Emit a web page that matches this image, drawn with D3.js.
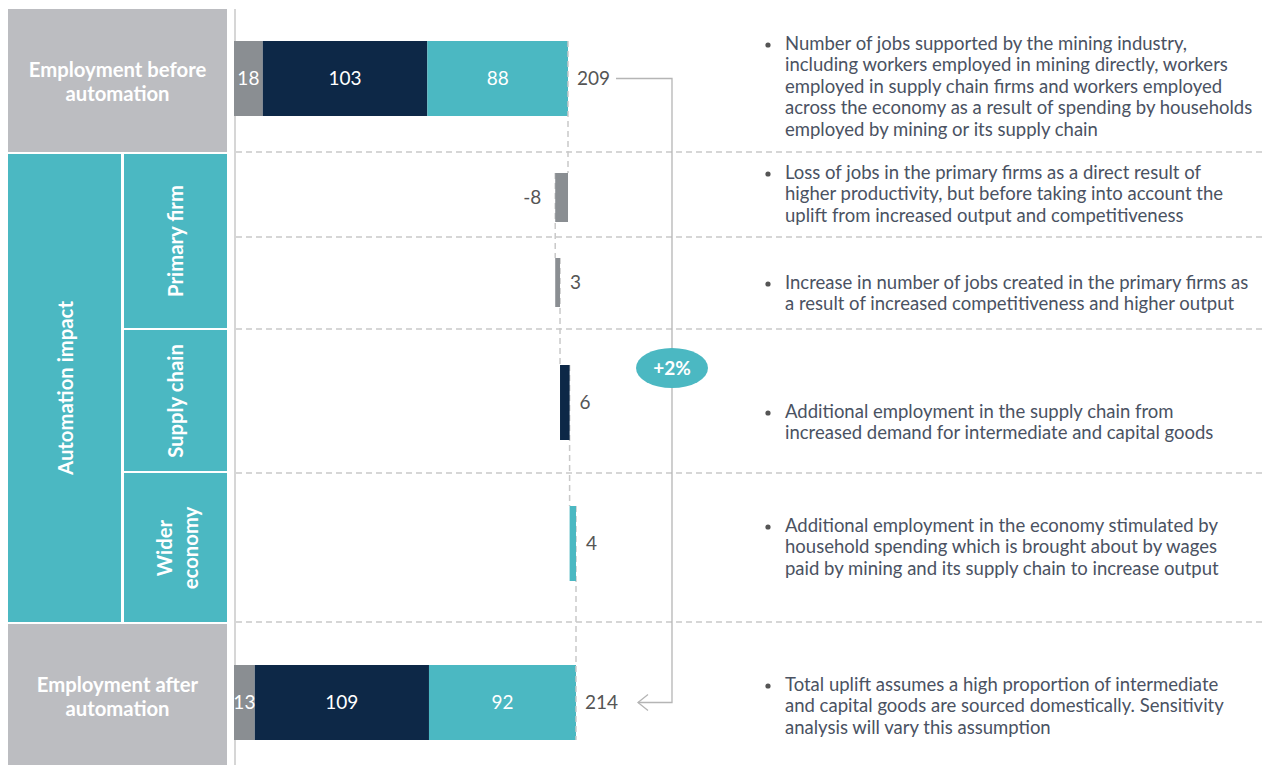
<!DOCTYPE html>
<html>
<head>
<meta charset="utf-8">
<script src="https://cdn.jsdelivr.net/npm/d3@7"></script>
<style>
  html, body { margin: 0; padding: 0; background: #fff; }
  svg { display: block; }
  text { font-family: Lato, "Open Sans", sans-serif; }
</style>
</head>
<body>
<svg id="chart" width="1265" height="765"></svg>
<script>
// ---------- DATA ----------
const segmentNames = ["Primary firm", "Supply chain", "Wider economy"];
const beforeValues = [18, 103, 88];
const beforeTotal = 209;
const afterValues = [13, 109, 92];
const afterTotal = 214;
const changeLabels = ["Primary firm (productivity)", "Primary firm (output)", "Supply chain", "Wider economy"];
const changeValues = [-8, 3, 6, 4];
const changeSegment = [0, 0, 1, 2];
const upliftLabel = "+2%";
const rowTitles = ["Employment before automation", "Automation impact", "Employment after automation"];
const subTitles = [["Primary firm"], ["Supply chain"], ["Wider", "economy"]];
const notes = [
  ["Number of jobs supported by the mining industry,", "including workers employed in mining directly, workers", "employed in supply chain firms and workers employed", "across the economy as a result of spending by households", "employed by mining or its supply chain"],
  ["Loss of jobs in the primary firms as a direct result of", "higher productivity, but before taking into account the", "uplift from increased output and competitiveness"],
  ["Increase in number of jobs created in the primary firms as", "a result of increased competitiveness and higher output"],
  ["Additional employment in the supply chain from", "increased demand for intermediate and capital goods"],
  ["Additional employment in the economy stimulated by", "household spending which is brought about by wages", "paid by mining and its supply chain to increase output"],
  ["Total uplift assumes a high proportion of intermediate", "and capital goods are sourced domestically. Sensitivity", "analysis will vary this assumption"]
];

// ---------- STYLE / LAYOUT ----------
const colors = ["#8a8e92", "#0d2847", "#4bb8c2"];
const panelGray = "#bcbdc1";
const panelTeal = "#4bb8c2";
const lineGray = "#c9c9c9";
const textGray = "#555555";
const noteColor = "#4a5262";

const svg = d3.select("#chart");
const x = d3.scaleLinear().domain([0, 214]).range([234, 576]);

const rowBefore = { cy: 78.5, h: 75 };
const rowAfter = { cy: 702.5, h: 75 };
const changeRows = [{ cy: 197.5, h: 49 }, { cy: 282.5, h: 49 }, { cy: 402.5, h: 75 }, { cy: 543.5, h: 75 }];
const separators = [152, 237, 329, 473, 622];
const noteFirstBaseline = [50, 179, 289, 418, 532, 691];
const lineHeight = 21.4;

// ---------- LEFT PANELS ----------
const g = svg.append("g");
g.append("rect").attr("x", 8).attr("y", 9).attr("width", 219).attr("height", 143).attr("fill", panelGray);
g.append("rect").attr("x", 8).attr("y", 154).attr("width", 113).attr("height", 468).attr("fill", panelTeal);
const subRects = [[154, 174], [330, 141], [473, 149]];
subRects.forEach(([y, h]) => {
  g.append("rect").attr("x", 124).attr("y", y).attr("width", 103).attr("height", h).attr("fill", panelTeal);
});
g.append("rect").attr("x", 8).attr("y", 624).attr("width", 219).attr("height", 141).attr("fill", panelGray);

function multiline(sel, lines, cx, cy, size, lh) {
  const t = sel.append("text").attr("text-anchor", "middle").attr("fill", "#fff")
    .attr("font-weight", "bold").attr("font-size", size);
  lines.forEach((l, i) => {
    t.append("tspan").attr("x", cx)
      .attr("y", cy + (i - (lines.length - 1) / 2) * lh)
      .attr("dy", "0.35em").text(l);
  });
  return t;
}
multiline(g, ["Employment before", "automation"], 117.5, 82, 20.3, 24);
multiline(g, ["Employment after", "automation"], 117.5, 697, 20.3, 24);

function rotatedLabel(lines, cx, cy) {
  const gg = g.append("g").attr("transform", `translate(${cx},${cy}) rotate(-90)`);
  multiline(gg, lines, 0, 0, 20.3, 26);
}
rotatedLabel(["Automation impact"], 66, 388);
rotatedLabel(subTitles[0], 176, 241);
rotatedLabel(subTitles[1], 176, 401);
rotatedLabel(subTitles[2], 178, 548);

// ---------- GRID / AXIS ----------
svg.append("line").attr("x1", 235).attr("x2", 235).attr("y1", 9).attr("y2", 765)
  .attr("stroke", lineGray).attr("stroke-width", 1.5);
separators.forEach(y => {
  svg.append("line").attr("x1", 236).attr("x2", 1265).attr("y1", y).attr("y2", y)
    .attr("stroke", lineGray).attr("stroke-width", 1.3).attr("stroke-dasharray", "6,4");
});

// ---------- STACKED BARS ----------
function stacked(values, total, row) {
  let acc = 0;
  const segs = values.map((v, i) => { const s = { i, v, x0: acc, x1: acc + v }; acc += v; return s; });
  const bg = svg.append("g");
  bg.selectAll("rect").data(segs).join("rect")
    .attr("x", d => x(d.x0)).attr("width", d => x(d.x1) - x(d.x0))
    .attr("y", row.cy - row.h / 2).attr("height", row.h)
    .attr("fill", d => colors[d.i]);
  bg.selectAll("text.v").data(segs).join("text").attr("class", "v")
    .attr("x", d => (x(d.x0) + x(d.x1)) / 2).attr("y", row.cy).attr("dy", "0.35em")
    .attr("text-anchor", "middle").attr("fill", "#fff").attr("font-size", 19)
    .text(d => d.v);
  bg.append("text").attr("x", x(total) + 9).attr("y", row.cy).attr("dy", "0.35em")
    .attr("fill", textGray).attr("font-size", 19).text(total);
}
stacked(beforeValues, beforeTotal, rowBefore);
stacked(afterValues, afterTotal, rowAfter);

// ---------- WATERFALL CHANGES ----------
let running = beforeTotal;
const changes = changeValues.map((v, i) => {
  const start = running; running += v;
  return { v, start, end: running, seg: changeSegment[i], row: changeRows[i] };
});
const conn = [];
conn.push({ xv: beforeTotal, y1: rowBefore.cy - rowBefore.h / 2, y2: changes[0].row.cy - changes[0].row.h / 2 });
changes.forEach((c, i) => {
  const next = i < changes.length - 1 ? changes[i + 1].row : rowAfter;
  conn.push({ xv: c.end, y1: c.row.cy - c.row.h / 2, y2: i < changes.length - 1 ? next.cy - next.h / 2 : next.cy + next.h / 2 });
});
svg.append("g").selectAll("line").data(conn).join("line")
  .attr("x1", d => x(d.xv)).attr("x2", d => x(d.xv))
  .attr("y1", d => d.y1).attr("y2", d => d.y2)
  .attr("stroke", lineGray).attr("stroke-width", 1.5).attr("stroke-dasharray", "6,4");

const wg = svg.append("g");
wg.selectAll("rect").data(changes).join("rect")
  .attr("x", d => x(Math.min(d.start, d.end)))
  .attr("width", d => Math.abs(x(d.end) - x(d.start)))
  .attr("y", d => d.row.cy - d.row.h / 2).attr("height", d => d.row.h)
  .attr("fill", d => colors[d.seg]);
wg.selectAll("text").data(changes).join("text")
  .attr("x", d => d.v < 0 ? x(d.end) - 14 : x(d.end) + 10)
  .attr("y", d => d.row.cy).attr("dy", "0.35em")
  .attr("text-anchor", d => d.v < 0 ? "end" : "start")
  .attr("fill", textGray).attr("font-size", 19)
  .text(d => d.v);

// ---------- UPLIFT CONNECTOR ----------
const cxL = 672;
svg.append("path")
  .attr("d", `M${x(beforeTotal) + 48},${rowBefore.cy} H${cxL} V${rowAfter.cy} H${x(afterTotal) + 62}`)
  .attr("fill", "none").attr("stroke", "#b5b5b5").attr("stroke-width", 1.3);
const ax = x(afterTotal) + 62;
svg.append("path")
  .attr("d", `M${ax + 10},${rowAfter.cy - 8} L${ax},${rowAfter.cy} L${ax + 10},${rowAfter.cy + 8}`)
  .attr("fill", "none").attr("stroke", "#b5b5b5").attr("stroke-width", 1.3);
svg.append("ellipse").attr("cx", cxL).attr("cy", 368).attr("rx", 36).attr("ry", 20).attr("fill", panelTeal);
svg.append("text").attr("x", cxL).attr("y", 368).attr("dy", "0.35em").attr("text-anchor", "middle")
  .attr("fill", "#fff").attr("font-weight", "bold").attr("font-size", 19).text(upliftLabel);

// ---------- NOTES ----------
const ng = svg.append("g");
notes.forEach((lines, k) => {
  const y0 = noteFirstBaseline[k];
  ng.append("circle").attr("cx", 768).attr("cy", y0 - 5).attr("r", 2.6).attr("fill", "#555");
  const t = ng.append("text").attr("fill", noteColor).attr("font-size", 18.5);
  lines.forEach((l, i) => {
    t.append("tspan").attr("x", 785).attr("y", y0 + i * lineHeight).text(l);
  });
});
</script>
</body>
</html>
